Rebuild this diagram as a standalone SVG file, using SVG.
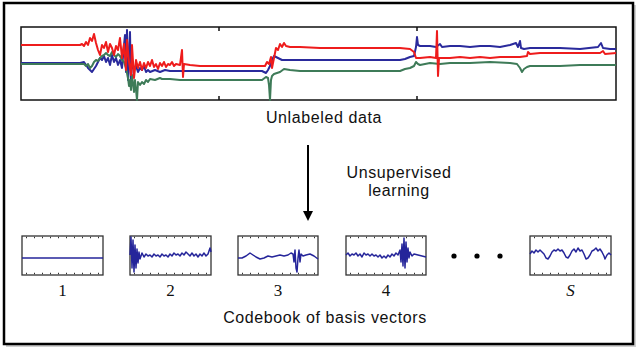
<svg xmlns="http://www.w3.org/2000/svg" width="640" height="351" viewBox="0 0 640 351">
<style>
.lbl{font-family:"Liberation Sans",Arial,sans-serif;font-size:16px;fill:#111;letter-spacing:0.6px;text-anchor:middle}
.num{font-family:"Liberation Serif","Times New Roman",serif;font-size:17px;fill:#111;text-anchor:middle}
.box{fill:#fff;stroke:#333;stroke-width:1.3}
.tick{stroke:#333;stroke-width:1.5;stroke-dasharray:1 7}
.sig{fill:none;stroke:#25259a;stroke-width:1.5;stroke-linejoin:round}
.trace{fill:none;stroke-width:2;stroke-linejoin:round}
</style>
<rect x="0" y="0" width="640" height="351" fill="#fff"/>
<g id="frame">
<rect x="6" y="5" width="630" height="342" fill="#d0d0d0"/>
<rect x="4" y="3" width="629" height="341" fill="#fff" stroke="#000" stroke-width="2.5"/>
</g>
<g id="unlabeled-data">
<rect x="21" y="27" width="595" height="73" fill="#fff" stroke="#111" stroke-width="1.5"/>
<path d="M219,27v4M417,27v4M219,100v-4M417,100v-4" stroke="#111" stroke-width="1.5"/>
<path class="trace" stroke="#2a2a9c" d="M21,63 H80 L84,62 L86,65 L88,68 L90,70 L92,72 L94,69 L96,66 L98,62 L100,58 L102,60 L104,56 L106,62 L108,58 L110,65 L112,55 L114,62 L116,58 L118,65 L120,60 L122,68 L124,45 L125,35 L126,72 L127,30 L128,80 L129,58 L130,32 L131,85 L132,60 L134,70 L136,66 L138,72 L140,68 L142,70 L144,66 L146,72 L148,70 L150,72 L155,70 L160,72 L165,70 L170,71 L180,71 L200,71 H262 L266,73 L268,70 L270,66 L272,60 L274,56 L278,58 L282,60 L290,60 H400 L405,59 L410,57 L414,56 L416,47 L417,37 L418,45 L420,46 L430,46 L436,47 L440,44 L442,47 L450,46 L460,46 L470,47 L480,46 L490,46 L500,47 L510,45 L516,43 L518,47 L520,41 L521,48 L524,49 L530,48 L540,48 L560,48 L580,49 L598,47 L601,43 L603,48 L610,49 L616,49"/>
<path class="trace" stroke="#3e7b58" d="M21,64 H80 L84,64 L86,66 L88,64 L90,68 L92,66 L94,62 L96,60 L98,61 L100,58 L102,56 L104,55 L106,53 L108,55 L110,56 L112,52 L114,55 L116,57 L118,54 L120,56 L122,60 L124,62 L126,68 L128,78 L129,86 L130,80 L131,90 L132,75 L134,92 L135,80 L137,100 L138,82 L140,85 L142,82 L144,84 L146,80 L148,82 L150,79 L155,80 L160,78 L162,79 L170,79 L180,80 L200,80 H262 L266,77 L268,78 L269,85 L270,100 L271,80 L272,76 L274,74 L280,72 L284,69 L290,70 L300,71 H400 L405,69 L410,68 L414,66 L416,62 L418,64 L420,65 L430,63 L440,64 L450,63 L470,63 L490,62 L510,63 L517,64 L520,68 L522,72 L524,69 L527,67 L530,66 L540,66 L560,66 L580,65 L600,65 L616,65"/>
<path class="trace" stroke="#ee1c1c" d="M21,45 H80 L82,44 L84,46 L86,42 L88,45 L90,38 L92,41 L94,34 L96,43 L98,50 L100,55 L102,45 L104,48 L106,42 L108,52 L110,44 L112,48 L114,55 L116,46 L118,50 L120,38 L122,58 L124,44 L126,70 L127,40 L129,62 L131,75 L132,45 L134,78 L136,60 L138,68 L140,62 L142,70 L144,63 L146,68 L148,62 L150,66 L152,60 L154,67 L156,64 L158,69 L160,63 L162,66 L164,62 L166,67 L168,64 L170,65 L172,62 L174,66 L176,64 L180,65 L182,50 L183,77 L184,64 L190,65 L200,66 H265 L267,62 L269,64 L271,57 L272,68 L274,58 L276,48 L278,50 L280,44 L282,47 L284,43 L286,46 L290,47 L300,47 L320,48 H400 L410,49 L414,52 L416,58 L420,58 L430,57 L436,58 L437,31 L438,76 L439,58 L450,58 L460,57 L470,58 L480,57 L490,58 L500,57 L520,57 L527,56 L528,52 L530,54 L540,53 L560,53 L580,53 L600,53 L603,51 L605,54 L616,53"/>
<text class="lbl" x="324" y="123">Unlabeled data</text>
</g>
<g id="connectors">
<line x1="308" y1="145" x2="308" y2="212" stroke="#000" stroke-width="2"/>
<polygon points="303,211 313,211 308,221" fill="#000"/>
</g>
<g id="unsupervised-label">
<text class="lbl" x="399" y="178">Unsupervised</text>
<text class="lbl" x="399" y="196">learning</text>
</g>
<g id="basis-1">
<rect class="box" x="22" y="236" width="81" height="39"/>
<line class="tick" x1="26" y1="237.5" x2="103" y2="237.5"/>
<line class="tick" x1="26" y1="273.5" x2="103" y2="273.5"/>
<path class="sig" d="M22,258 H103"/>
<text class="num" x="62.5" y="296">1</text>
</g>
<g id="basis-2">
<rect class="box" x="130" y="236" width="81" height="39"/>
<line class="tick" x1="134" y1="237.5" x2="211" y2="237.5"/>
<line class="tick" x1="134" y1="273.5" x2="211" y2="273.5"/>
<path class="sig" d="M130,255 L131,237 L132,268 L133,240 L134,272 L135,245 L136,268 L137,249 L138,263 L139,252 L140,259 L142,253 L144,257 L146,254 L148,256 L150,255 L152,257 L154,254 L156,256 L158,255 L160,257 L162,254 L164,256 L166,255 L168,257 L170,254 L172,256 L174,253 L176,255 L178,254 L180,256 L182,253 L184,255 L186,252 L188,254 L190,256 L192,253 L194,256 L196,254 L198,257 L200,254 L202,256 L204,253 L206,256 L208,254 L210,248 L211,252"/>
<text class="num" x="170.5" y="296">2</text>
</g>
<g id="basis-3">
<rect class="box" x="238" y="236" width="80" height="39"/>
<line class="tick" x1="242" y1="237.5" x2="318" y2="237.5"/>
<line class="tick" x1="242" y1="273.5" x2="318" y2="273.5"/>
<path class="sig" d="M238,258 L242,258 L246,256 L250,253 L253,255 L256,257 L260,259 L264,258 L268,256 L272,257 L276,256 L280,255 L284,256 L288,255 L291,253 L293,254 L294,262 L295,250 L296,268 L297,272 L298,258 L299,250 L300,262 L301,254 L303,256 L306,255 L310,254 L314,256 L318,259"/>
<text class="num" x="278" y="296">3</text>
</g>
<g id="basis-4">
<rect class="box" x="346" y="236" width="80" height="39"/>
<line class="tick" x1="350" y1="237.5" x2="426" y2="237.5"/>
<line class="tick" x1="350" y1="273.5" x2="426" y2="273.5"/>
<path class="sig" d="M346,255 L348,253 L350,256 L352,254 L354,255 L356,253 L358,256 L360,254 L362,257 L364,253 L366,255 L368,254 L370,256 L372,254 L374,256 L376,255 L378,257 L380,255 L382,258 L384,256 L386,258 L388,255 L390,257 L392,254 L394,256 L396,253 L398,255 L400,250 L401,262 L402,244 L403,266 L404,238 L405,268 L406,242 L407,262 L408,248 L409,258 L410,252 L412,256 L414,254 L418,255 L422,256 L426,257"/>
<text class="num" x="386" y="296">4</text>
</g>
<g id="ellipsis">
<circle cx="454" cy="256" r="2.6" fill="#000"/>
<circle cx="477" cy="256" r="2.6" fill="#000"/>
<circle cx="500" cy="256" r="2.6" fill="#000"/>
</g>
<g id="basis-S">
<rect class="box" x="530" y="236" width="81" height="39"/>
<line class="tick" x1="534" y1="237.5" x2="611" y2="237.5"/>
<line class="tick" x1="534" y1="273.5" x2="611" y2="273.5"/>
<path class="sig" stroke-width="1.8" d="M530,254 L532,251 L534,253 L536,250 L538,252 L540,250 L542,252 L544,254 L546,258 L548,259 L550,256 L552,252 L554,250 L556,251 L558,249 L560,251 L562,250 L564,253 L566,257 L568,258 L570,255 L572,251 L574,249 L576,252 L578,248 L580,251 L582,250 L584,254 L586,259 L588,258 L590,255 L592,251 L594,250 L596,248 L598,251 L600,249 L602,252 L604,256 L605,259 L607,255 L609,253 L611,255"/>
<text class="num" x="570.5" y="296" font-style="italic">S</text>
</g>
<g id="codebook-label">
<text class="lbl" x="325" y="323">Codebook of basis vectors</text>
</g>
</svg>
